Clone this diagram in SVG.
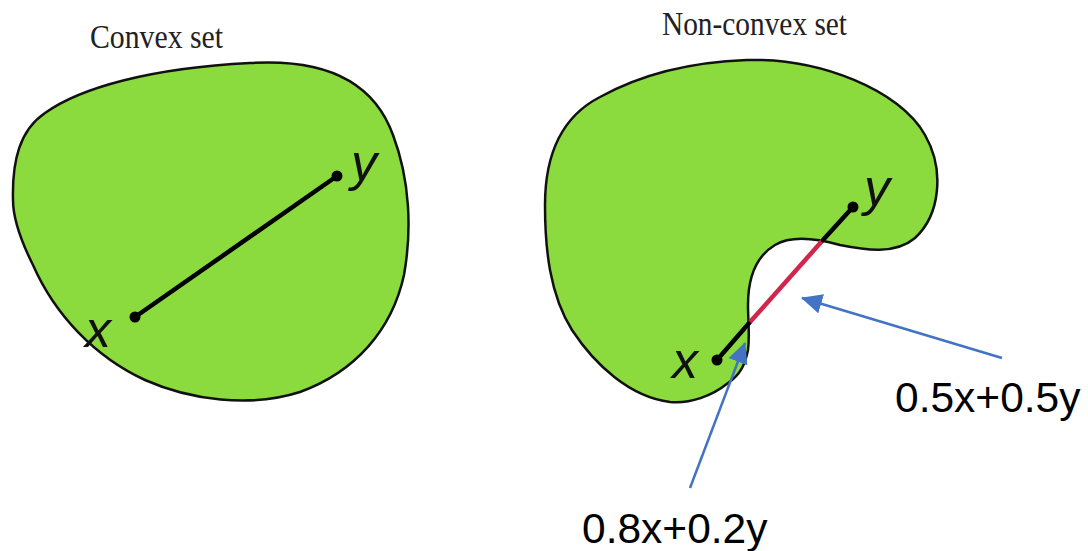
<svg xmlns="http://www.w3.org/2000/svg" width="1088" height="551" viewBox="0 0 1088 551">
<style>
.shape{fill:#8bdb3e;stroke:#111;stroke-width:2.5;stroke-linejoin:round}
.seg{stroke:#000;stroke-width:4.5;stroke-linecap:round;fill:none}
.red{stroke:#d2254b;stroke-width:4.5;fill:none}
.dot{fill:#000}
.pt{font-family:"Liberation Sans",Arial,sans-serif;font-style:italic;font-size:52px;fill:#111}
.title{font-family:"Liberation Serif","Times New Roman",serif;font-size:33px;fill:#222}
.lbl{font-family:"Liberation Sans",Arial,sans-serif;font-size:42.5px;fill:#000}
.arrow{stroke:#4472c4;stroke-width:2.5;fill:none;marker-end:url(#ah)}
</style>
<defs>
<marker id="ah" markerUnits="userSpaceOnUse" markerWidth="24" markerHeight="24" refX="20" refY="10" orient="auto">
<path d="M0,0 L21,10 L0,20 Z" fill="#4472c4"/>
</marker>
</defs>
<rect width="1088" height="551" fill="#fff"/>
<g id="convex">
<text class="title" x="90" y="48" textLength="133" lengthAdjust="spacingAndGlyphs">Convex set</text>
<path class="shape" d="M13,200 C12,160 20,130 45,113 C80,88 150,68 250,63 C330,58 375,85 393,135 C410,180 412,230 404,275 C392,330 355,372 300,392 C250,408 190,400 145,380 C95,357 55,315 33,265 C18,235 13,215 13,200 Z"/>
<line class="seg" x1="135" y1="317" x2="337" y2="176"/>
<circle class="dot" cx="135" cy="317" r="5.5"/>
<circle class="dot" cx="337" cy="176" r="5.5"/>
<text class="pt" x="85" y="347">x</text>
<text class="pt" x="351" y="180">y</text>
</g>
<g id="nonconvex">
<text class="title" x="662" y="35" textLength="185" lengthAdjust="spacingAndGlyphs">Non-convex set</text>
<path class="shape" d="M747,60 C820,58 900,90 925,135 C945,170 940,215 915,238 C895,255 865,250 840,245 C815,238 790,236 775,245 C755,257 748,280 748,305 C748,322 750,335 748,350 C745,365 740,375 728,383 C712,396 690,404 670,402 C630,397 595,365 572,330 C550,295 545,250 545,205 C545,150 565,115 600,97 C640,75 690,62 747,60 Z"/>
<line class="seg" x1="717" y1="360" x2="750" y2="322"/>
<line class="red" x1="750" y1="322" x2="823" y2="240"/>
<line class="seg" x1="823" y1="240" x2="853" y2="207"/>
<circle class="dot" cx="717" cy="360" r="5.5"/>
<circle class="dot" cx="853" cy="207" r="5.5"/>
<text class="pt" x="672" y="378">x</text>
<text class="pt" x="864" y="205">y</text>
</g>
<g id="label-05">
<text class="lbl" x="895" y="412">0.5x+0.5y</text>
</g>
<g id="label-08">
<text class="lbl" x="582" y="543">0.8x+0.2y</text>
</g>
<g id="connectors">
<line class="arrow" x1="1002" y1="358" x2="802" y2="298"/>
<line class="arrow" x1="690" y1="488" x2="745" y2="343"/>
</g>
</svg>
